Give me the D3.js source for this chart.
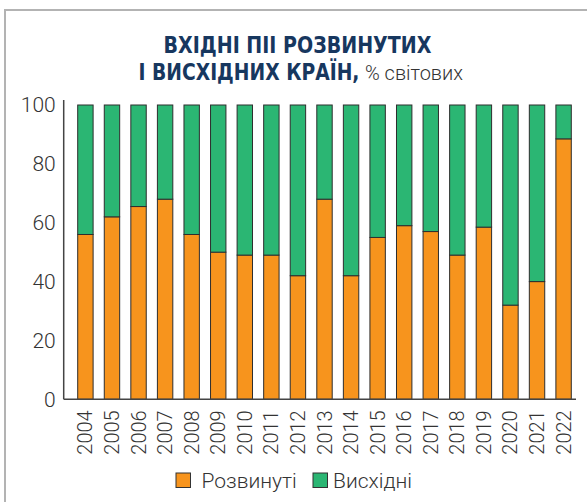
<!DOCTYPE html>
<html>
<head>
<meta charset="utf-8">
<script src="https://cdn.jsdelivr.net/npm/d3@7"></script>
<style>
  html, body { margin: 0; padding: 0; background: #fff; }
  svg { display: block; }
</style>
</head>
<body>
<div id="chart"></div>
<script>
'use strict';

var years = ['2004', '2005', '2006', '2007', '2008', '2009', '2010', '2011', '2012', '2013',
    '2014', '2015', '2016', '2017', '2018', '2019', '2020', '2021', '2022'];
// share of world FDI inflows, %
var developed = [56, 62, 65.5, 68, 56, 50, 49, 49, 42, 68, 42, 55, 59, 57, 49, 58.5, 32, 40, 88.5];
var emerging = developed.map(function(d) { return 100 - d; });
var seriesNames = ['Розвинуті', 'Висхідні'];
var seriesColors = ['#f7941d', '#2bb673'];
var yTicks = [0, 20, 40, 60, 80, 100];

var W = 587, H = 502;
var svg = d3.select('#chart').append('svg')
    .attr('width', W)
    .attr('height', H);

// frame (top + left rule)
svg.append('path')
    .attr('d', 'M5,502V10H587')
    .attr('fill', 'none')
    .attr('stroke', '#b3b3b3')
    .attr('stroke-width', 2);

// title pieces, squeezed horizontally to the reference widths
var titleColor = '#17375f';
var boldFont = '"Liberation Sans Narrow", "DejaVu Sans Condensed", sans-serif';
var titleParts = [
    { text: 'ВХІДНІ ПІІ РОЗВИНУТИХ', x: 163.5, y: 53, w: 268, font: boldFont, weight: 700, size: 23, color: titleColor },
    { text: 'І ВИСХІДНИХ КРАЇН,', x: 138.5, y: 79.5, w: 221, font: boldFont, weight: 700, size: 23, color: titleColor },
    { text: '% світових', x: 365, y: 79.5, w: 98, font: 'Roboto, sans-serif', weight: 300, size: 21, color: '#333' }
];

svg.append('g')
    .selectAll('text')
    .data(titleParts)
    .join('text')
    .style('font-family', function(d) { return d.font; })
    .style('font-weight', function(d) { return d.weight; })
    .style('font-size', function(d) { return d.size + 'px'; })
    .attr('fill', function(d) { return d.color; })
    .text(function(d) { return d.text; })
    .each(function(d) {
        var natural = this.getComputedTextLength() || d.w;
        d3.select(this).attr('transform',
            'translate(' + d.x + ',' + d.y + ') scale(' + (d.w / natural) + ',1)');
    });

// scales
var x = d3.scaleBand()
    .domain(years)
    .range([70, 579])
    .paddingInner(0.42)
    .paddingOuter(0.29);

var y = d3.scaleLinear()
    .domain([0, 100])
    .range([399.3, 105]);

var stacked = d3.stack().keys([0, 1])(years.map(function(yr, i) {
    return { 0: developed[i], 1: emerging[i], year: yr };
}));

svg.append('g')
    .selectAll('g')
    .data(stacked)
    .join('g')
    .attr('fill', function(d, i) { return seriesColors[i]; })
    .selectAll('rect')
    .data(function(d) { return d; })
    .join('rect')
    .attr('x', function(d) { return x(d.data.year); })
    .attr('width', x.bandwidth())
    .attr('y', function(d) { return y(d[1]); })
    .attr('height', function(d) { return y(d[0]) - y(d[1]); })
    .attr('stroke', '#2e2e2e')
    .attr('stroke-width', 1);

// y axis
var yAxis = svg.append('g')
    .attr('transform', 'translate(63.7,0)')
    .call(d3.axisLeft(y).tickValues(yTicks).tickSize(0).tickPadding(8));
yAxis.select('.domain').attr('d', 'M0,100V399.3').attr('stroke', '#444').attr('stroke-width', 1.5);
yAxis.selectAll('text')
    .style('font-family', 'Roboto, sans-serif')
    .style('font-weight', 300)
    .style('font-size', '21px')
    .attr('fill', '#333');

// x axis
var xAxis = svg.append('g')
    .attr('transform', 'translate(0,399.3)')
    .call(d3.axisBottom(x).tickSize(0).tickPadding(0));
xAxis.select('.domain').attr('d', 'M63.7,0H576').attr('stroke', '#444').attr('stroke-width', 1.5);
xAxis.selectAll('text')
    .attr('transform', 'translate(0,11) rotate(-90)')
    .attr('x', 0)
    .attr('y', 0)
    .attr('dy', '0.35em')
    .attr('text-anchor', 'end')
    .style('font-family', 'Roboto, sans-serif')
    .style('font-weight', 300)
    .style('font-size', '20px')
    .attr('fill', '#333');

// legend
var legendItems = [
    { name: seriesNames[0], color: seriesColors[0], box: 176, label: 201.5 },
    { name: seriesNames[1], color: seriesColors[1], box: 313, label: 333 }
];
var lg = svg.append('g')
    .selectAll('g')
    .data(legendItems)
    .join('g');
lg.append('rect')
    .attr('x', function(d) { return d.box; })
    .attr('y', 473)
    .attr('width', 14.5)
    .attr('height', 14.5)
    .attr('fill', function(d) { return d.color; })
    .attr('stroke', '#333')
    .attr('stroke-width', 1);
lg.append('text')
    .attr('x', function(d) { return d.label; })
    .attr('y', 487.5)
    .style('font-family', 'Roboto, sans-serif')
    .style('font-weight', 300)
    .style('font-size', '21px')
    .attr('fill', '#333')
    .text(function(d) { return d.name; });
</script>
</body>
</html>
